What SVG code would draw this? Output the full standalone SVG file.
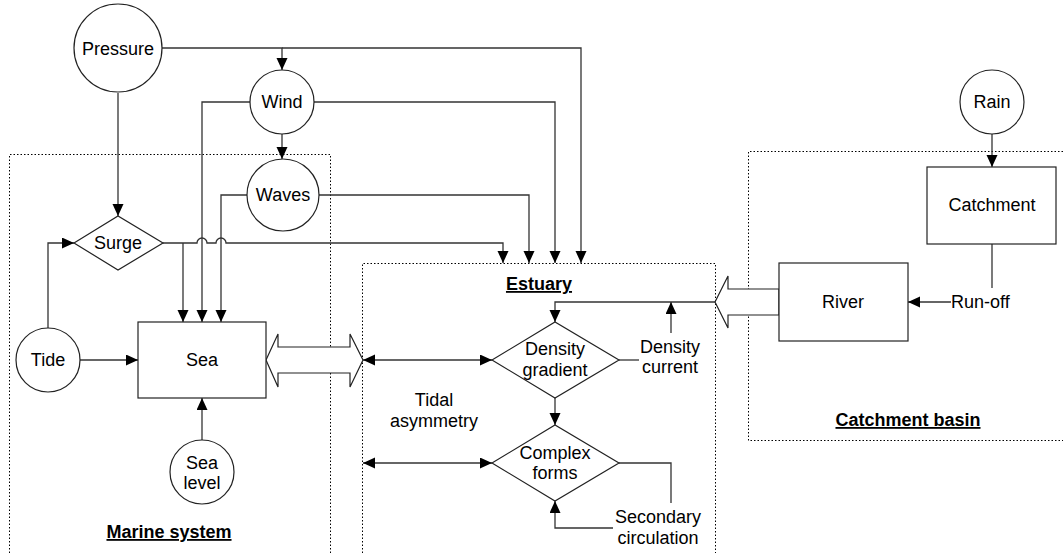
<svg xmlns="http://www.w3.org/2000/svg" width="1063" height="553" viewBox="0 0 1063 553">
<defs>
<marker id="ah" markerUnits="userSpaceOnUse" markerWidth="13" markerHeight="12" refX="12" refY="5.5" orient="auto-start-reverse" viewBox="0 0 13 12">
<path d="M0,0 L12,5.5 L0,11 z" fill="#000"/>
</marker>
<style>
.shape{fill:#fff;stroke:#222;stroke-width:1.2}
.ln{fill:none;stroke:#333;stroke-width:1.3}
.arr{marker-end:url(#ah)}
.dbl{marker-start:url(#ah);marker-end:url(#ah)}
.box{fill:none;stroke:#000;stroke-width:1;stroke-dasharray:1.5,2}
text{font-family:"Liberation Sans",Arial,sans-serif;font-size:18px;fill:#000;text-anchor:middle}
.title{font-weight:bold;text-decoration:underline}
</style>
</defs>
<rect width="1063" height="553" fill="#fff"/>
<g id="regions">
<path class="box" d="M9.5,560 V154.5 H330.5 V560"/>
<path class="box" d="M362.5,560 V263.5 H715.5 V560"/>
<path class="box" d="M1070,151.5 H748.5 V440.5 H1070"/>
</g>
<g id="connectors">
<path class="ln arr" d="M162,48 H282 V70"/>
<path class="ln arr" d="M282,48 H581 V263"/>
<path class="ln arr" d="M282,134 V159"/>
<path class="ln arr" d="M118,93 V216"/>
<path class="ln arr" d="M250,102 H202 V322"/>
<path class="ln arr" d="M314,102 H555 V263"/>
<path class="ln arr" d="M247,195 H221 V322"/>
<path class="ln arr" d="M319,195 H529 V263"/>
<path class="ln arr" d="M163,243 H197 a5,5 0 0 1 10,0 H216 a5,5 0 0 1 10,0 H503 V263"/>
<path class="ln arr" d="M183,243 V322"/>
<path class="ln arr" d="M48,328 V243 H74"/>
<path class="ln arr" d="M80,360 H138"/>
<path class="ln arr" d="M202,440 V398"/>
<polygon class="shape" points="266,360 278,334 278,347 350,347 350,334 363,360 350,387 350,373 278,373 278,387"/>
<path class="ln dbl" d="M363,360 H492"/>
<path class="ln dbl" d="M363,463 H492"/>
<polygon class="shape" points="779,289 728,289 728,276 715,302 728,328 728,315 779,315"/>
<path class="ln arr" d="M715,302 H555 V322"/>
<path class="ln arr" d="M671,333 V302"/>
<path class="ln" d="M619,360 H639"/>
<path class="ln arr" d="M555,398 V425"/>
<path class="ln" d="M619,463 H671 V503"/>
<path class="ln arr" d="M613,528 H555 V501"/>
<path class="ln arr" d="M992,134 V167"/>
<path class="ln" d="M992,244 V288"/>
<path class="ln arr" d="M951,302 H908"/>
</g>
<g id="pressure"><circle class="shape" cx="118" cy="48" r="44"/><text x="118" y="55">Pressure</text></g>
<g id="wind"><circle class="shape" cx="282" cy="102" r="32"/><text x="282" y="108">Wind</text></g>
<g id="waves"><circle class="shape" cx="283" cy="195" r="36"/><text x="283" y="201">Waves</text></g>
<g id="surge"><polygon class="shape" points="74,243 118,216 163,243 118,270"/><text x="118" y="249">Surge</text></g>
<g id="tide"><circle class="shape" cx="48" cy="360" r="32"/><text x="48" y="366">Tide</text></g>
<g id="sea"><rect class="shape" x="138" y="322" width="128" height="76"/><text x="202" y="366">Sea</text></g>
<g id="sea-level"><circle class="shape" cx="202" cy="472" r="32"/><text x="202" y="469">Sea</text><text x="202" y="489">level</text></g>
<g id="marine-system"><text class="title" x="169" y="538">Marine system</text></g>
<g id="estuary"><text class="title" x="539" y="290">Estuary</text></g>
<g id="density-gradient"><polygon class="shape" points="492,360 555,322 619,360 555,398"/><text x="555" y="355">Density</text><text x="555" y="376">gradient</text></g>
<g id="density-current"><text x="670" y="353">Density</text><text x="670" y="373">current</text></g>
<g id="tidal-asymmetry"><text x="434" y="406">Tidal</text><text x="434" y="427">asymmetry</text></g>
<g id="complex-forms"><polygon class="shape" points="492,463 555,425 619,463 555,501"/><text x="555" y="459">Complex</text><text x="555" y="479">forms</text></g>
<g id="secondary-circulation"><text x="658" y="523">Secondary</text><text x="658" y="544">circulation</text></g>
<g id="rain"><circle class="shape" cx="992" cy="102" r="32"/><text x="992" y="108">Rain</text></g>
<g id="catchment"><rect class="shape" x="927" y="167" width="129" height="77"/><text x="992" y="211">Catchment</text></g>
<g id="river"><rect class="shape" x="779" y="263" width="129" height="78"/><text x="843" y="308">River</text></g>
<g id="run-off"><text x="951" y="308" style="text-anchor:start">Run-off</text></g>
<g id="catchment-basin"><text class="title" x="908" y="426">Catchment basin</text></g>
</svg>
